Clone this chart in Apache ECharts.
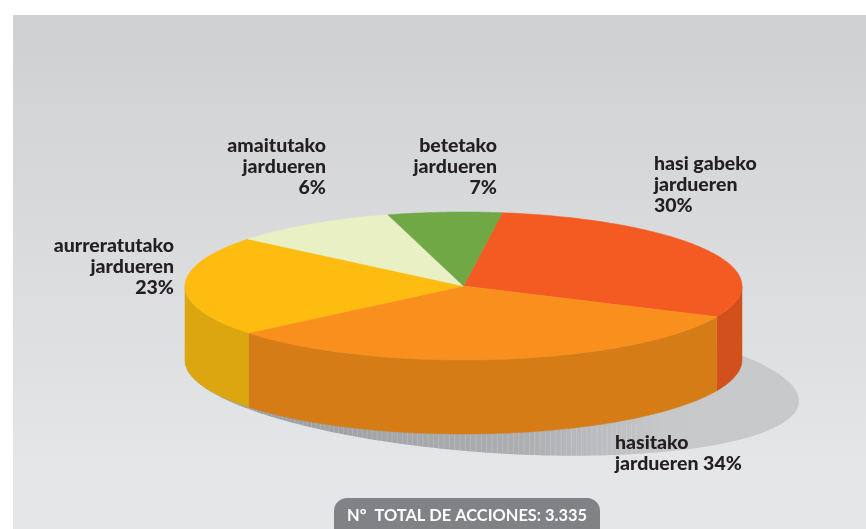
<!DOCTYPE html>
<html>
<head>
<meta charset="utf-8">
<style>html,body{margin:0;padding:0;background:#fff}#c{width:866px;height:529px}</style>
<script src="https://cdn.jsdelivr.net/npm/echarts@6/dist/echarts.min.js"></script>
</head>
<body>
<div id="c"></div>
<script>
// Data
var categories = ['hasi gabeko jardueren', 'hasitako jardueren', 'aurreratutako jardueren', 'amaitutako jardueren', 'betetako jardueren'];
var printedPercent = [30, 34, 23, 6, 7];
// share of the circle each slice actually occupies in the drawing
var drawnShare = [29.6, 32.2, 21.9, 9.7, 6.6];
var labelLines = [
  ['hasi gabeko', 'jardueren', '30%'],
  ['hasitako', 'jardueren 34%'],
  ['aurreratutako', 'jardueren', '23%'],
  ['amaitutako', 'jardueren', '6%'],
  ['betetako', 'jardueren', '7%']
];
var totalLabel = 'N°  TOTAL DE ACCIONES: 3.335';

// Styles & layout
var topColors = ['#f35b22', '#f98f1d', '#febc10', '#e9f1c4', '#6fa845'];
var wallColors = ['#d1501c', '#d57c17', '#dba60f', '#c8cfa8', '#5f9039'];
var labelLayout = [
  { x: 654, y: 153, align: 'left' },
  { x: 615, y: 432, align: 'left' },
  { x: 174, y: 235, align: 'right' },
  { x: 326, y: 135, align: 'right' },
  { x: 497, y: 135, align: 'right' }
];
var disc = { cx: 463.5, cy: 286, rx: 278.5, ry: 74, skew: 0, depth: 74, startDeg: -82 };
var shadow = { cx: 492, cy: 381, rx: 307, ry: 72, skew: 20 };
var FONT = 'Lato, "Open Sans", sans-serif';

function pt(e, deg, dy) {
  var t = deg * Math.PI / 180, c = Math.cos(t), s = Math.sin(t);
  return [e.cx + e.rx * c, e.cy + e.ry * s + e.skew * c + (dy || 0)];
}
function arc(e, a, b, dy) {
  var out = [], n = Math.max(2, Math.ceil(Math.abs(b - a)));
  for (var i = 0; i <= n; i++) out.push(pt(e, a + (b - a) * i / n, dy));
  return out;
}
var totalShare = drawnShare.reduce(function (a, b) { return a + b; }, 0);
function sliceRange(i) {
  var before = 0;
  for (var k = 0; k < i; k++) before += drawnShare[k];
  return [disc.startDeg + before / totalShare * 360, disc.startDeg + (before + drawnShare[i]) / totalShare * 360];
}

var chart = echarts.init(document.getElementById('c'), null, { renderer: 'canvas' });
chart.setOption({
  animation: false,
  backgroundColor: '#ffffff',
  graphic: [
    {
      type: 'rect', z: -10, silent: true,
      shape: { x: 13, y: 15, width: 853, height: 514 },
      style: { fill: new echarts.graphic.LinearGradient(0, 0, 0, 1, [
        { offset: 0, color: '#cfd0d2' }, { offset: 0.9, color: '#e5e6e8' }, { offset: 1, color: '#e5e6e8' }
      ]) }
    },
    {
      type: 'rect', z: 5, silent: true,
      shape: { x: 334, y: 498, width: 266, height: 50, r: 13 },
      style: { fill: '#808285' }
    },
    {
      type: 'text', z: 6, silent: true, x: 467, y: 516,
      style: { text: totalLabel, fill: '#ffffff', font: 'bold 16.4px Lato, sans-serif', align: 'center', verticalAlign: 'middle' }
    }
  ].concat(labelLines.map(function (lines, i) {
    return {
      type: 'text', z: 6, silent: true, x: labelLayout[i].x, y: labelLayout[i].y,
      style: { text: lines.join('\n'), fill: '#231f20', font: '900 19.5px ' + FONT, lineHeight: 21, align: labelLayout[i].align, verticalAlign: 'top' }
    };
  })),
  series: [
    {
      type: 'custom', coordinateSystem: 'none', silent: true, z: 1, data: [1],
      renderItem: function () {
        var children = [{
          type: 'polygon',
          shape: { points: arc(shadow, 0, 360) },
          style: { fill: new echarts.graphic.LinearGradient(0, 0, 1, 0, [
            { offset: 0, color: '#97999d' }, { offset: 0.55, color: '#acaeb1' }, { offset: 0.78, color: '#c7c8ca' }, { offset: 1, color: '#c8c9cb' }
          ]) }
        }];
        // fine vertical ribs on the rim
        for (var d = 175; d >= 62; d -= 1) {
          var p = pt(shadow, d);
          children.push({
            type: 'line',
            shape: { x1: p[0], y1: p[1] - 30, x2: p[0], y2: p[1] },
            style: { stroke: 'rgba(255,255,255,0.16)', lineWidth: 1 }
          });
        }
        return { type: 'group', children: children };
      }
    },
    {
      type: 'custom', coordinateSystem: 'none', silent: true, z: 2, data: drawnShare,
      renderItem: function (params) {
        var r = sliceRange(params.dataIndex), children = [];
        [[r[0], r[1]], [r[0] - 360, r[1] - 360]].forEach(function (w) {
          var a = Math.max(w[0], 0), b = Math.min(w[1], 180);
          if (b > a) {
            var pts = arc(disc, a, b, 0).concat(arc(disc, b, a, disc.depth));
            children.push({ type: 'polygon', shape: { points: pts },
              style: { fill: wallColors[params.dataIndex], stroke: wallColors[params.dataIndex], lineWidth: 0.5 } });
          }
        });
        return { type: 'group', children: children };
      }
    },
    {
      type: 'custom', coordinateSystem: 'none', silent: true, z: 3, data: drawnShare,
      renderItem: function (params) {
        var r = sliceRange(params.dataIndex);
        var pts = [[disc.cx, disc.cy]].concat(arc(disc, r[0], r[1]));
        return { type: 'polygon', shape: { points: pts },
          style: { fill: topColors[params.dataIndex], stroke: topColors[params.dataIndex], lineWidth: 0.5 } };
      }
    }
  ]
});
</script>
</body>
</html>
